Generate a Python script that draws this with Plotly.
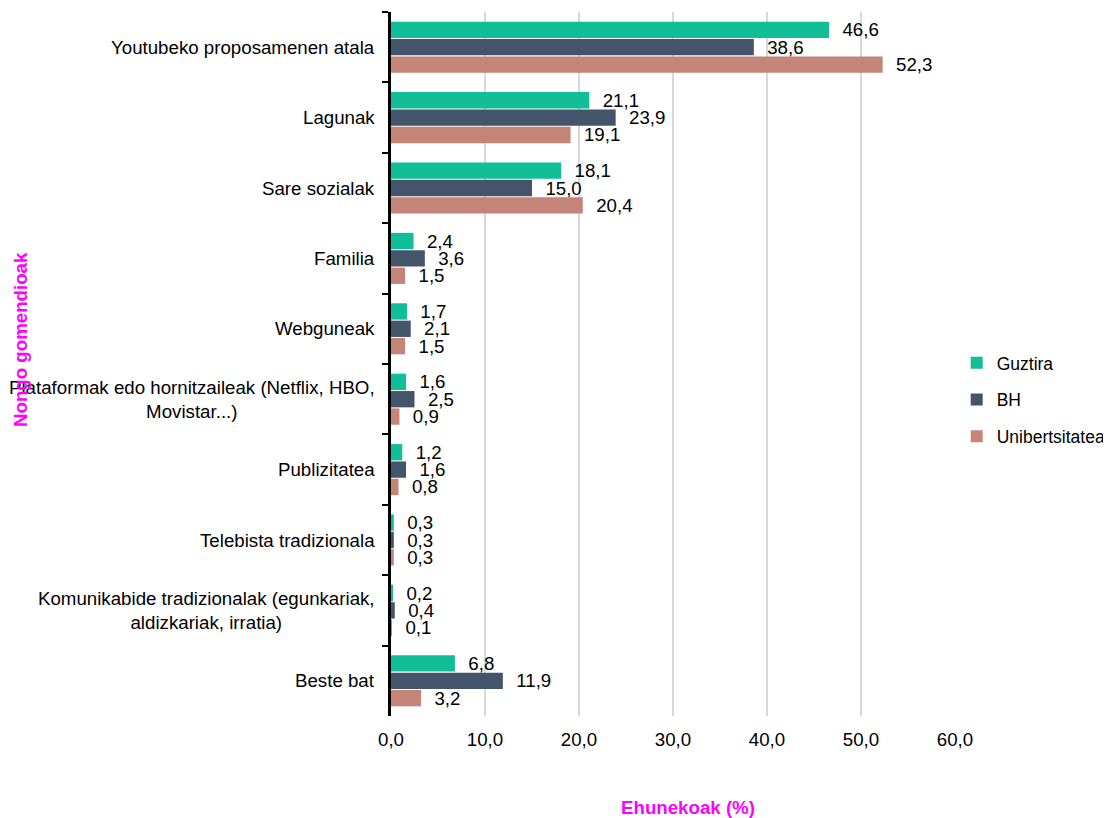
import plotly.graph_objects as go

categories = [
    "Youtubeko proposamenen atala",
    "Lagunak",
    "Sare sozialak",
    "Familia",
    "Webguneak",
    "Plataformak edo hornitzaileak (Netflix, HBO,<br>Movistar...)",
    "Publizitatea",
    "Telebista tradizionala",
    "Komunikabide tradizionalak (egunkariak,<br>aldizkariak, irratia)",
    "Beste bat",
]
guztira = [46.6, 21.1, 18.1, 2.4, 1.7, 1.6, 1.2, 0.3, 0.2, 6.8]
bh = [38.6, 23.9, 15.0, 3.6, 2.1, 2.5, 1.6, 0.3, 0.4, 11.9]
unibertsitatea = [52.3, 19.1, 20.4, 1.5, 1.5, 0.9, 0.8, 0.3, 0.1, 3.2]

series = [
    ("Guztira", guztira, "#12BE98"),
    ("BH", bh, "#44546A"),
    ("Unibertsitatea", unibertsitatea, "#C48478"),
]

font = "Liberation Sans, Arial, sans-serif"
fs = 18.7

fig = go.Figure()
for name, vals, col in series:
    fig.add_trace(go.Bar(
        y=categories, x=vals, name=name, orientation="h",
        marker=dict(color=col, line=dict(width=0)),
        text=vals, texttemplate="  %{x:.1f}", textposition="outside",
        constraintext="none",
        textfont=dict(color="black", size=fs, family=font),
        cliponaxis=False, legendgroup=name,
    ))

# category labels as annotations so that wrapped ones are centred
for c in categories:
    fig.add_annotation(text=c, xref="paper", yref="y", x=0, y=c,
                       xanchor="right", xshift=-14, align="center",
                       showarrow=False, font=dict(size=fs, color="black"))

# page body has an 8px margin, so everything is placed 8px up/left
fig.update_layout(
    width=1103, height=810,
    margin=dict(l=383, r=156, t=4, b=102, autoexpand=False),
    plot_bgcolor="white", paper_bgcolor="white",
    barmode="group", bargap=0.26, bargroupgap=0.06,
    separators=",.",
    font=dict(family=font, size=fs, color="black"),
    legend=dict(x=1.003, y=0.449, yanchor="middle", xanchor="left",
                tracegroupgap=11, font=dict(size=17.5), itemwidth=30),
    showlegend=True,
)
fig.update_xaxes(
    range=[0, 60], tickformat=".1f", dtick=10,
    showgrid=True, gridcolor="#D9D9D9", gridwidth=2,
    zeroline=False, showline=False,
    ticks="outside", ticklen=7, tickcolor="rgba(0,0,0,0)",
    tickfont=dict(size=fs),
)
fig.update_yaxes(
    autorange="reversed", showline=True, linecolor="black", linewidth=3,
    ticks="outside", ticklen=6, tickwidth=2, tickcolor="black",
    tickson="boundaries", showticklabels=False,
)
fig.add_annotation(text="<b>Nongo gomendioak</b>", textangle=-90,
                   xref="paper", yref="paper", x=(12 - 383) / 564, y=(708 - 332) / 704,
                   xanchor="center", yanchor="middle",
                   showarrow=False, font=dict(color="#FF00FF", size=fs))
fig.add_annotation(text="<b>Ehunekoak (%)</b>", xref="paper", yref="paper",
                   x=(680 - 383) / 564, y=(708 - 799) / 704,
                   xanchor="center", yanchor="middle",
                   showarrow=False, font=dict(color="#FF00FF", size=fs))

fig.write_html("out.html")
